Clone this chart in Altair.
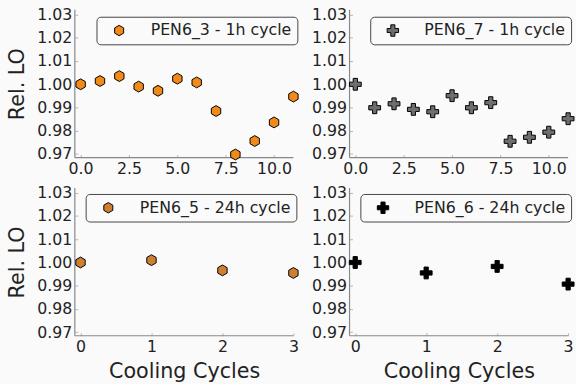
import altair as alt
import pandas as pd

# ---- data ----
cycles_1h = list(range(12))
pen6_3 = [1.000, 1.0014, 1.0035, 0.9990, 0.9972, 1.0024, 1.0008, 0.9885, 0.9698, 0.9756, 0.9836, 0.9947]
pen6_7 = [1.000, 0.9899, 0.9916, 0.9892, 0.9882, 0.9951, 0.9899, 0.9921, 0.9755, 0.9772, 0.9794, 0.9852]
cycles_24h = [0, 1, 2, 3]
pen6_5 = [1.000, 1.0010, 0.9966, 0.9955]
pen6_6 = [1.000, 0.9955, 0.9983, 0.9907]

labels = ["PEN6_3 - 1h cycle", "PEN6_7 - 1h cycle", "PEN6_5 - 24h cycle", "PEN6_6 - 24h cycle"]
colors = ["#f28a1a", "#6e6e6e", "#cd7f32", "#000000"]
y_ticks = [0.97, 0.98, 0.99, 1.00, 1.01, 1.02, 1.03]
x_ticks_1h = [0, 2.5, 5, 7.5, 10]
x_ticks_24h = [0, 1, 2, 3]

HEX = "M0,-1L0.866,-0.5L0.866,0.5L0,1L-0.866,0.5L-0.866,-0.5Z"
PLUS = ("M-0.36,-1L0.36,-1L0.36,-0.36L1,-0.36L1,0.36L0.36,0.36L0.36,1L-0.36,1"
        "L-0.36,0.36L-1,0.36L-1,-0.36L-0.36,-0.36Z")

W, H = 222, 150
FONT = "DejaVu Sans"
TXT = "#222222"
SPINE = "#888888"


def panel(xs, ys, label, color, shape, size, xdomain, xticks, xfmt,
          xtitle, ytitle, legend_x, legend_y):
    df = pd.DataFrame({"cycle": xs, "lo": ys, "series": [label] * len(xs)})
    common_axis = dict(offset=-3, domain=False, tickSize=3, tickColor="#b5b5b5",
                       tickWidth=1, labelPadding=3, labelFontSize=16, labelFont=FONT,
                       labelColor=TXT, grid=False, labelFlush=False, labelOverlap=False,
                       titleFontSize=21, titleFont=FONT, titleColor=TXT,
                       titleFontWeight="normal")
    xaxis = alt.Axis(values=xticks, format=xfmt, title=xtitle, titlePadding=6, **common_axis)
    yaxis = alt.Axis(values=y_ticks, format=".2f", title=ytitle, titlePadding=10, **common_axis)
    leg = alt.Legend(orient="none", legendX=legend_x, legendY=legend_y, title=None,
                     labelFontSize=16, labelFont=FONT, labelColor=TXT,
                     strokeColor="#444444", fillColor="#fafafa", cornerRadius=4,
                     padding=6, symbolSize=size - 10, symbolStrokeColor="black",
                     symbolStrokeWidth=1, symbolOffset=9, labelOffset=24)
    pts = alt.Chart(df).mark_point(filled=True, stroke="black", strokeWidth=1,
                                   opacity=1, size=size).encode(
        x=alt.X("cycle:Q", scale=alt.Scale(domain=xdomain, nice=False, zero=False), axis=xaxis),
        y=alt.Y("lo:Q", scale=alt.Scale(domain=[0.9685, 1.032], nice=False, zero=False), axis=yaxis),
        color=alt.Color("series:N", scale=alt.Scale(domain=[label], range=[color]), legend=leg),
        shape=alt.Shape("series:N", scale=alt.Scale(domain=[label], range=[shape]), legend=leg),
    )
    one = pd.DataFrame({"k": [0]})
    left_spine = alt.Chart(one).mark_rule(color=SPINE, strokeWidth=1.2).encode(
        x=alt.value(0), y=alt.value(0), y2=alt.value(H))
    bottom_spine = alt.Chart(one).mark_rule(color=SPINE, strokeWidth=1.2).encode(
        y=alt.value(H), x=alt.value(0), x2=alt.value(W))
    return alt.layer(left_spine, bottom_spine, pts).properties(width=W, height=H)


p1 = panel(cycles_1h, pen6_3, labels[0], colors[0], HEX, 121, [-0.3, 11], x_ticks_1h, ".1f",
           None, "Rel. LO", 22, 7)
p2 = panel(cycles_1h, pen6_7, labels[1], colors[1], PLUS, 144, [-0.3, 11], x_ticks_1h, ".1f",
           None, None, 21, 7)
p3 = panel(cycles_24h, pen6_5, labels[2], colors[2], HEX, 121, [-0.08, 3], x_ticks_24h, "d",
           "Cooling Cycles", "Rel. LO", 11, 6)
p4 = panel(cycles_24h, pen6_6, labels[3], colors[3], PLUS, 144, [-0.08, 3], x_ticks_24h, "d",
           "Cooling Cycles", None, 11, 6)

top = alt.hconcat(p1, p2, spacing=11).resolve_scale(
    color="independent", shape="independent", x="independent", y="independent")
bottom = alt.hconcat(p3, p4, spacing=11).resolve_scale(
    color="independent", shape="independent", x="independent", y="independent")

chart = alt.vconcat(top, bottom, spacing=8).resolve_scale(
    color="independent", shape="independent", x="independent", y="independent"
).properties(
    padding={"left": 6, "top": 3, "right": 0, "bottom": 0}, background="#fafafa"
).configure_view(stroke=None)

chart.save("out.html", embed_options={"renderer": "svg", "actions": False})
